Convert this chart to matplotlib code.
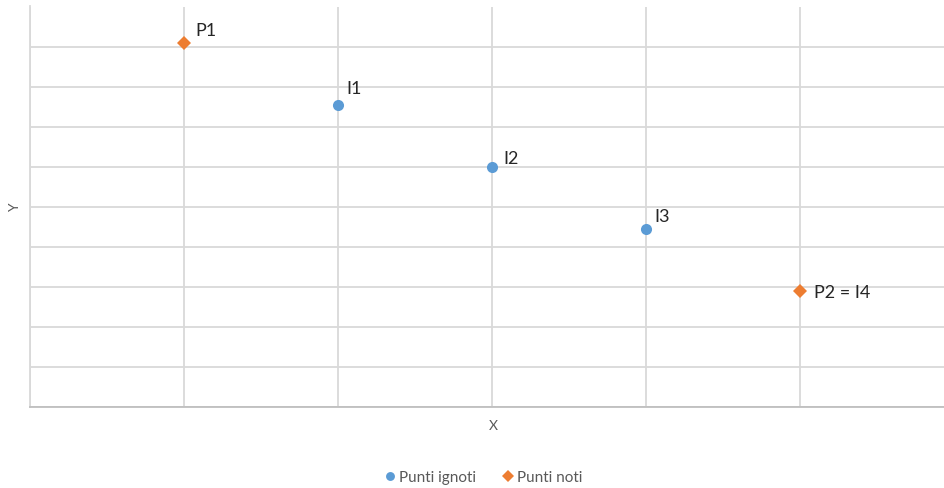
import matplotlib.pyplot as plt
from matplotlib.ticker import MultipleLocator

# unknown points (Punti ignoti) and known points (Punti noti)
ignoti_x = [2, 3, 4]
ignoti_y = [7.55, 6.0, 4.45]
ignoti_lbl = ['I1', 'I2', 'I3']

noti_x = [1, 5]
noti_y = [9.1, 2.9]
noti_lbl = ['P1', 'P2 = I4']

plt.rcParams['font.family'] = ['Lato', 'DejaVu Sans']

fig = plt.figure(figsize=(9.44, 4.89), dpi=100)
ax = fig.add_axes([30/944, 81/489, 1 - 30/944, 400.5/489])

ax.set_xlim(0, 914/154)
ax.set_ylim(0, 10)
ax.xaxis.set_major_locator(MultipleLocator(1))
ax.yaxis.set_major_locator(MultipleLocator(1))
ax.grid(True, color='#d9d9d9', lw=1.3)
ax.set_axisbelow(True)
ax.tick_params(length=0, labelbottom=False, labelleft=False)
for s in ['top', 'right']:
    ax.spines[s].set_visible(False)
ax.spines['left'].set_color('#d9d9d9')
ax.spines['left'].set_linewidth(1.3)
ax.spines['bottom'].set_color('#bfbfbf')
ax.spines['bottom'].set_linewidth(1.3)

ax.plot(ignoti_x, ignoti_y, 'o', color='#5b9bd5', ms=8, mew=0, label='Punti ignoti', clip_on=False)
ax.plot(noti_x, noti_y, 'D', color='#ed7d31', ms=7.6, mew=0, label='Punti noti', clip_on=False)

# label offsets in points, per mark
offs_ign = [(6, 6), (8, 0.5), (6, 3.5)]
for x, y, t, o in zip(ignoti_x, ignoti_y, ignoti_lbl, offs_ign):
    ax.annotate(t, (x, y), xytext=o, textcoords='offset points',
                fontsize=13, color='#262626', va='bottom', ha='left')
offs_noti = [(8.5, 3.5), (10, -6.8)]
for x, y, t, o in zip(noti_x, noti_y, noti_lbl, offs_noti):
    ax.annotate(t, (x, y), xytext=o, textcoords='offset points',
                fontsize=13, color='#262626', va='bottom', ha='left')

fig.text(493/944, 1 - 426/489, 'X', fontsize=10, color='#595959', ha='center', va='center')
fig.text(15/944, 1 - 208/489, 'Y', fontsize=10, color='#595959', ha='center', va='center', rotation=90)

leg = fig.legend(loc='center', bbox_to_anchor=(482/944, 1 - 478/489), ncol=2, frameon=False,
                 fontsize=11, handletextpad=0.0, columnspacing=1.6, handlelength=1.1,
                 markerscale=0.8, labelcolor='#595959')

fig.savefig('out.png', dpi=100)
